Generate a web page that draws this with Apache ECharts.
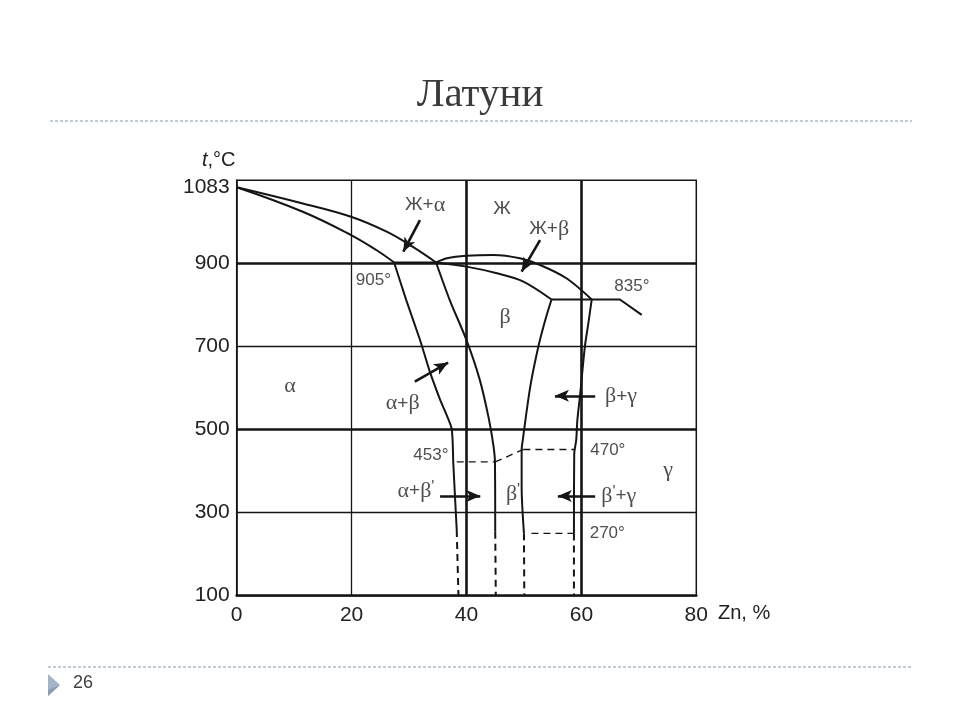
<!DOCTYPE html>
<html><head><meta charset="utf-8">
<script src="https://cdn.jsdelivr.net/npm/echarts@6/dist/echarts.min.js"></script>
<style>html,body{margin:0;padding:0;background:#fff}#c{width:960px;height:720px}</style>
</head><body><div id="c"></div>
<script>
// ---- axis ticks & grid ----
const xTicks = [0, 20, 40, 60, 80];
const yTicks = [100, 300, 500, 700, 900, 1083];
const minorXGrid = [20];
const majorXGrid = [40, 60];
const minorYGrid = [300, 700];
const majorYGrid = [500, 900];

// ---- phase boundaries [Zn %, t °C] ----
const liquidusAlpha = [[0,1083],[11.5,1044],[19.9,1012],[26.1,976],[30.6,940],[34.7,902]];
const solidusAlpha  = [[0,1083],[11.5,1024],[19.9,968],[24.3,932],[27.4,902]];
const peritectic    = [[27.4,902],[34.7,902]];
const liquidusBeta  = [[34.7,902],[36.6,912],[40,918],[44.7,920],[49.3,912],[52.8,896],[57.4,864],[61.8,813]];
const solidusBeta   = [[34.7,902],[40,892],[45.3,876],[49.9,856],[54.8,813]];
const line835       = [[54.8,813],[66.7,813],[70.5,776]];
const solvusAlpha   = [[27.4,902],[29.5,812],[31.9,716],[33.6,640],[35.4,572],[37.4,503],[37.7,419],[38.0,338],[38.3,258]];
const betaLeft      = [[34.7,902],[37.1,811],[40,715],[42.3,620],[43.9,525],[44.7,460],[44.96,420],[45.0,254]];
const betaRight     = [[54.8,813],[53.7,763],[52.5,699],[51.1,603],[49.8,475],[49.6,451],[49.6,362],[50.0,250]];
const gammaLeft     = [[61.8,813],[61.2,755],[60.6,699],[59.8,587],[59.3,523],[59.1,475],[58.75,440],[58.7,250]];
// low-temperature (dashed) continuations
const solvusAlphaLow = [[38.3,258],[38.6,100]];
const betaLeftLow    = [[45.0,254],[45.1,100]];
const betaRightLow   = [[50.0,250],[50.06,100]];
const gammaLeftLow   = [[58.7,250],[58.7,100]];
// ordering transformations (dashed)
const line453  = [[38.3,422],[45.0,422]];
const lineDiag = [[45.0,422],[49.9,452]];
const line470  = [[49.9,452],[58.9,452]];
const line270  = [[51.3,250],[58.7,250]];

// ---- annotations ----
const phaseLabels = [
  ['Ж+α',32.8,1040],['Ж',46.2,1031],['Ж+β',54.4,982],['β',46.7,771],
  ['α',9.3,603],['α+β',28.9,563],['β+γ',66.9,579],
  ["α+β'",31.2,352],["β'",48.1,345],["β'+γ",66.5,340],['γ',75.1,403]
];
const tempLabels = [['905°',23.8,860],['835°',68.8,845],['453°',33.8,437],['470°',64.6,449],['270°',64.5,250]];
const arrows = [
  [[31.9,1004],[29.0,928]],
  [[52.8,956],[49.6,880]],
  [[31.0,615],[36.8,661]],
  [[62.4,581],[55.4,581]],
  [[35.4,340],[42.4,340]],
  [[62.4,340],[55.9,340]]
];

const INK = '#151515';
function curve(data, opts) {
  opts = opts || {};
  return {
    type: 'line', data: data, symbol: 'none', silent: true,
    smooth: opts.smooth === undefined ? 0.3 : opts.smooth,
    lineStyle: { color: INK, width: opts.width || 2, type: opts.dash ? [7, 5] : 'solid' },
    z: 5
  };
}
function gridLine(axis, v, w) {
  return axis === 'x' ? { xAxis: v, lineStyle: { width: w } } : { yAxis: v, lineStyle: { width: w } };
}
function richText(s) {
  let out = '';
  for (const ch of s) {
    if ('αβγ'.includes(ch)) out += '{g|' + ch + '}';
    else if (ch === "'") out += '{p|\'}';
    else out += '{s|' + ch + '}';
  }
  return out;
}

const gridMarks = [].concat(
  minorXGrid.map(v => gridLine('x', v, 1.3)),
  majorXGrid.map(v => gridLine('x', v, 2.6)),
  minorYGrid.map(v => gridLine('y', v, 1.3)),
  majorYGrid.map(v => gridLine('y', v, 2.6))
);

const chart = echarts.init(document.getElementById('c'));
chart.setOption({
  backgroundColor: '#ffffff',
  animation: false,
  title: {
    text: 'Латуни', left: 'center', top: 70,
    textStyle: { fontFamily: 'Liberation Serif', fontSize: 41, fontWeight: 'normal', color: '#3a3a3a' }
  },
  grid: {
    left: 236.7, right: 263.7, top: 180.2, bottom: 124.3,
    show: true, borderColor: INK, borderWidth: 1.5, backgroundColor: 'transparent'
  },
  xAxis: {
    type: 'value', min: 0, max: 80, interval: 20,
    axisLine: { show: true, lineStyle: { color: INK, width: 2.6 } },
    axisTick: { show: false }, splitLine: { show: false },
    axisLabel: { margin: 9, fontFamily: 'Liberation Sans', fontSize: 21, color: '#222',
      customValues: xTicks, formatter: v => String(v) }
  },
  yAxis: {
    type: 'value', min: 100, max: 1100,
    axisLine: { show: true, lineStyle: { color: INK, width: 1.5 } },
    axisTick: { show: false }, splitLine: { show: false },
    axisLabel: { margin: 7, fontFamily: 'Liberation Sans', fontSize: 21, color: '#222',
      customValues: yTicks, formatter: v => String(v) }
  },
  graphic: [
    { type: 'line', shape: { x1: 50, y1: 121, x2: 912, y2: 121 },
      style: { stroke: '#c3cbd4', lineWidth: 2, lineDash: [3, 2] } },
    { type: 'line', shape: { x1: 48, y1: 667, x2: 912, y2: 667 },
      style: { stroke: '#c3cbd4', lineWidth: 2, lineDash: [3, 2] } },
    { type: 'polygon', shape: { points: [[48, 674], [60, 685], [48, 696]] },
      style: { fill: '#a2b5c8' } },
    { type: 'polygon', shape: { points: [[48, 690], [60, 685], [48, 696]] },
      style: { fill: '#8c9db0' } },
    { type: 'text', left: 73, top: 674,
      style: { text: '26', fontFamily: 'Liberation Sans', fontSize: 18, fill: '#404040' } },
    { type: 'text', left: 202, top: 150,
      style: { text: '{i|t},°C', rich: { i: { fontStyle: 'italic', fontFamily: 'Liberation Sans', fontSize: 20, fill: '#222' } },
        fontFamily: 'Liberation Sans', fontSize: 20, fill: '#222' } },
    { type: 'text', left: 718, top: 603,
      style: { text: 'Zn, %', fontFamily: 'Liberation Sans', fontSize: 20, fill: '#222' } }
  ],
  series: [
    {
      type: 'line', data: [], silent: true,
      markLine: { silent: true, symbol: 'none', label: { show: false },
        lineStyle: { color: INK, type: 'solid' }, data: gridMarks },
      z: 2
    },
    curve(liquidusAlpha, { smooth: 0.4 }), curve(solidusAlpha, { smooth: 0.4 }), curve(peritectic, { smooth: false }),
    curve(liquidusBeta), curve(solidusBeta), curve(line835, { smooth: false }),
    curve(solvusAlpha, { smooth: 0.2 }), curve(betaLeft), curve(betaRight), curve(gammaLeft),
    curve(solvusAlphaLow, { dash: true, smooth: false }), curve(betaLeftLow, { dash: true, smooth: false }),
    curve(betaRightLow, { dash: true, smooth: false }), curve(gammaLeftLow, { dash: true, smooth: false }),
    curve(line453, { dash: true, smooth: false, width: 1.4 }), curve(lineDiag, { dash: true, smooth: false, width: 1.4 }),
    curve(line470, { dash: true, smooth: false, width: 1.4 }), curve(line270, { dash: true, smooth: false, width: 1.4 }),
    {
      type: 'line', data: [], silent: true,
      markLine: { silent: true, symbol: ['none', 'arrow'], symbolSize: [9, 14], label: { show: false },
        lineStyle: { color: INK, type: 'solid', width: 2.6 },
        data: arrows.map(a => [{ coord: a[0] }, { coord: a[1] }]) },
      z: 6
    },
    {
      type: 'scatter', symbolSize: 0, silent: true, z: 7,
      data: phaseLabels.map(p => ({ value: [p[1], p[2]], name: p[0] })),
      label: { show: true, position: 'inside', formatter: p => richText(p.name),
        rich: {
          g: { fontFamily: 'Liberation Serif', fontSize: 22, color: '#222' },
          s: { fontFamily: 'Liberation Sans', fontSize: 19, color: '#222' },
          p: { fontFamily: 'Liberation Sans', fontSize: 16, color: '#222', verticalAlign: 'top' }
        } }
    },
    {
      type: 'scatter', symbolSize: 0, silent: true, z: 7,
      data: tempLabels.map(p => ({ value: [p[1], p[2]], name: p[0] })),
      label: { show: true, position: 'inside', formatter: p => p.name,
        fontFamily: 'Liberation Sans', fontSize: 17, color: '#222' }
    }
  ]
});
</script></body></html>
